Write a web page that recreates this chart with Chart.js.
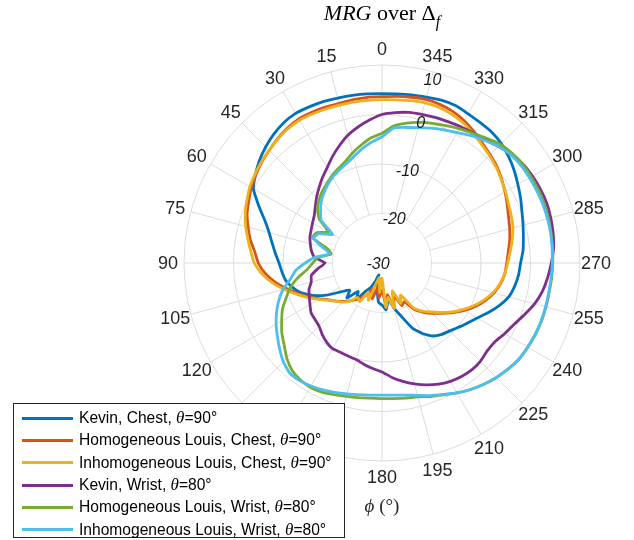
<!DOCTYPE html>
<html><head><meta charset="utf-8">
<script src="https://cdn.jsdelivr.net/npm/chart.js@4.4.1/dist/chart.umd.min.js"></script>
<style>
html,body{margin:0;padding:0;background:#fff;}
#wrap{position:relative;width:634px;height:540px;overflow:hidden;}
canvas{position:absolute;left:0;top:0;}
#title{position:absolute;left:232px;width:300px;top:0px;text-align:center;font-family:'Liberation Serif','Times New Roman',serif;font-size:22px;color:#000;line-height:26px;}
#title sub{font-size:16px;vertical-align:-7px;line-height:0;}
#xlabel{position:absolute;left:332px;width:100px;top:495px;text-align:center;font-family:'Liberation Serif','Times New Roman',serif;font-size:19px;color:#262626;line-height:22px;}
#legend{position:absolute;left:13px;top:403px;width:332px;height:135px;border:1px solid #262626;background:#fff;font-family:'Liberation Sans',Arial,sans-serif;font-size:15.6px;color:#000;box-sizing:border-box;padding-top:3px;}
.row{height:22.3px;display:flex;align-items:center;white-space:nowrap;}
.sw{display:inline-block;width:51px;height:3px;margin-left:8px;margin-right:6px;}
.th{font-family:'Liberation Serif','Times New Roman',serif;font-style:italic;font-size:17px;}
</style></head>
<body>
<div id="wrap">
<canvas id="c" width="634" height="540"></canvas>
<div id="title"><i>MRG</i> over Δ<sub><i>f</i></sub></div>
<div id="xlabel"><i>ϕ</i> (°)</div>
<div id="legend"></div>
</div>
<script>
const PHI = [0,5,10,15,20,25,30,35,40,45,50,55,60,65,70,75,80,85,90,95,100,105,110,115,120,125,130,135,140,145,150,155,160,165,170,175,180,185,190,195,200,205,210,215,220,225,230,235,240,245,250,255,260,265,270,275,280,285,290,295,300,305,310,315,320,325,330,335,340,345,350,355];
const ANGLE_TICKS = [0,15,30,45,60,75,90,105,120,135,150,165,180,195,210,225,240,255,270,285,300,315,330,345];
const R_MIN = -30, R_MAX = 10, R_STEP = 10, R_HOLE = -20;

const kevinChest = [4.2,4.3,4.4,4.5,4.7,4.8,4.9,4.6,4.0,3.2,2.3,1.2,0.0,-2.5,-4.8,-6.4,-7.5,-8.4,-9.2,-9.7,-10.2,-11.2,-12.5,-14.5,-17.0,-19.8,-21.5,-20.0,-22.5,-21.0,-23.5,-24.5,-26.0,-27.5,-24.5,-22.0,-21.5,-20.5,-22.5,-20.5,-18.5,-15.5,-13.5,-12.0,-11.2,-10.6,-9.8,-8.9,-7.8,-6.3,-4.8,-3.5,-2.8,-2.3,-2.0,-1.4,-1.0,-0.5,0.1,0.9,1.7,2.6,3.4,4.1,4.5,4.6,4.8,5.1,5.0,4.7,4.5,4.3];
const homLouisChest = [3.6,3.6,3.5,3.4,3.5,3.6,3.6,3.3,2.8,2.2,1.7,1.1,0.5,-0.3,-1.0,-2.0,-3.0,-4.2,-5.0,-6.3,-8.0,-10.0,-12.0,-13.8,-15.5,-17.0,-18.0,-19.0,-20.0,-21.0,-22.0,-23.0,-24.5,-22.5,-25.0,-23.0,-24.5,-21.5,-23.5,-20.5,-23.0,-20.5,-21.0,-18.5,-17.0,-15.6,-14.2,-12.5,-10.8,-9.2,-7.8,-6.6,-5.7,-5.1,-4.8,-4.4,-3.8,-3.3,-2.8,-2.1,-1.3,-0.5,0.3,0.9,1.6,2.4,3.2,3.8,4.1,4.2,4.0,3.8];
const inhomLouisChest = [3.0,3.0,3.0,3.0,3.1,3.2,3.3,3.1,2.7,2.2,1.8,1.3,0.8,0.1,-0.6,-1.5,-2.5,-3.4,-4.2,-5.6,-7.4,-9.5,-11.6,-13.5,-15.3,-16.8,-18.0,-18.8,-20.0,-21.5,-21.0,-23.5,-22.0,-26.0,-27.0,-24.0,-26.9,-21.0,-23.0,-20.5,-24.0,-21.0,-22.5,-19.0,-17.3,-16.0,-14.5,-12.8,-11.2,-9.6,-8.1,-6.8,-5.8,-5.1,-4.6,-4.0,-3.3,-2.6,-2.2,-1.8,-1.2,-0.6,0.1,0.7,1.3,2.0,2.7,3.2,3.5,3.5,3.3,3.1];
const kevinWrist = [0.0,-1.0,-2.1,-3.3,-4.8,-6.3,-7.8,-9.0,-10.2,-11.3,-12.4,-13.3,-13.8,-14.2,-14.5,-15.0,-15.5,-16.3,-18.5,-17.0,-15.5,-15.2,-14.3,-13.8,-13.2,-12.5,-12.3,-12.0,-11.2,-10.5,-10.0,-10.1,-10.0,-9.8,-9.2,-8.6,-8.0,-6.8,-5.7,-4.7,-3.8,-3.0,-2.4,-2.0,-1.8,-1.9,-2.3,-2.2,-1.4,-0.6,0.6,1.9,2.9,3.6,4.2,4.8,5.1,5.3,5.4,5.3,5.1,4.8,4.2,3.3,2.5,2.1,1.8,1.5,1.3,1.1,0.9,0.5];
const homLouisWrist = [-3.8,-4.6,-5.8,-7.0,-8.2,-9.0,-9.7,-10.5,-11.2,-12.0,-13.0,-14.5,-17.5,-15.5,-15.0,-18.5,-19.6,-17.0,-16.0,-14.8,-12.7,-10.8,-9.4,-7.8,-6.6,-5.3,-4.2,-2.8,-1.7,-1.2,-1.0,-1.2,-1.7,-2.1,-2.4,-2.6,-2.6,-2.5,-2.3,-2.0,-1.3,-0.6,0.3,1.2,2.0,2.7,3.3,3.8,4.0,4.2,4.3,4.3,4.3,4.4,4.5,4.6,4.7,4.8,4.9,4.9,4.8,4.7,4.4,3.9,2.9,2.0,1.3,0.6,0.0,-0.6,-1.3,-2.2];
const inhomLouisWrist = [-4.5,-5.5,-6.6,-7.8,-8.7,-9.4,-10.0,-10.8,-11.7,-12.6,-13.8,-15.0,-18.5,-16.0,-15.2,-17.5,-19.3,-16.5,-14.5,-12.5,-11.2,-9.3,-7.8,-6.5,-5.3,-4.2,-3.0,-1.8,-1.0,-1.0,-1.3,-1.7,-2.2,-2.6,-3.0,-3.2,-3.3,-3.2,-2.9,-2.3,-1.5,-0.7,0.3,1.2,2.0,2.7,3.3,3.8,4.0,4.1,4.2,4.2,4.2,4.3,4.4,4.5,4.6,4.6,4.6,4.5,4.4,4.3,4.0,3.3,2.3,1.4,0.4,-0.3,-1.0,-1.7,-2.2,-2.6];

const SERIES = [
  {name:'Kevin, Chest, ', ang:'θ', tail:'=90°', data:kevinChest, color:'#0072BD'},
  {name:'Homogeneous Louis, Chest, ', ang:'θ', tail:'=90°', data:homLouisChest, color:'#D95319'},
  {name:'Inhomogeneous Louis, Chest, ', ang:'θ', tail:'=90°', data:inhomLouisChest, color:'#EDB120'},
  {name:'Kevin, Wrist, ', ang:'θ', tail:'=80°', data:kevinWrist, color:'#7E2F8E'},
  {name:'Homogeneous Louis, Wrist, ', ang:'θ', tail:'=80°', data:homLouisWrist, color:'#77AC30'},
  {name:'Inhomogeneous Louis, Wrist, ', ang:'θ', tail:'=80°', data:inhomLouisWrist, color:'#4DBEEE'}
];

const leg = document.getElementById('legend');
SERIES.forEach(s => {
  const row = document.createElement('div');
  row.className = 'row';
  row.innerHTML = '<span class="sw" style="background:' + s.color + '"></span><span>' + s.name +
    '<span class="th">' + s.ang + '</span>' + s.tail + '</span>';
  leg.appendChild(row);
});

// radar goes clockwise; phi increases counter-clockwise
const N = PHI.length;
const cw = arr => arr.map((_, i) => arr[(N - i) % N]);
const labels = cw(PHI);

const polarPlugin = {
  id: 'polarDecor',
  beforeDatasetsDraw(chart) {
    const s = chart.scales.r, ctx = chart.ctx;
    ctx.save();
    ctx.fillStyle = '#fff';
    ctx.beginPath();
    ctx.arc(s.xCenter, s.yCenter, s.getDistanceFromCenterForValue(R_HOLE) - 0.6, 0, Math.PI * 2);
    ctx.fill();
    ctx.restore();
  },
  afterDraw(chart) {
    const s = chart.scales.r, ctx = chart.ctx;
    ctx.save();
    ctx.fillStyle = '#262626';
    ctx.textAlign = 'center';
    ctx.textBaseline = 'middle';
    ctx.font = '18px "Liberation Sans", Arial, sans-serif';
    chart.data.labels.forEach((lab, i) => {
      if (!ANGLE_TICKS.includes(lab)) return;
      const p = s.getPointPosition(i, s.drawingArea + 16);
      ctx.fillText(String(lab), p.x, p.y + 1);
    });
    ctx.fillStyle = '#1a1a1a';
    ctx.font = 'italic 16px "Liberation Sans", Arial, sans-serif';
    const a = -Math.PI / 2 + 15.5 * Math.PI / 180;
    s.ticks.forEach(t => {
      const inset = t.value === R_MAX ? 9 : 4;
      const d = Math.max(s.getDistanceFromCenterForValue(t.value) - inset, 0);
      const x = s.xCenter + Math.cos(a) * d;
      const y = s.yCenter + Math.sin(a) * d;
      ctx.fillText(t.label, x - (d === 0 ? 4 : 0), y + (d === 0 ? 2 : 0));
    });
    ctx.restore();
  }
};

new Chart(document.getElementById('c'), {
  type: 'radar',
  data: {
    labels: labels,
    datasets: SERIES.map((s, k) => ({
      label: s.name + s.ang + s.tail,
      data: cw(s.data),
      borderColor: s.color,
      backgroundColor: s.color,
      borderWidth: 2.8,
      fill: false,
      pointRadius: 0,
      tension: 0.15,
      borderJoinStyle: 'round',
      order: SERIES.length - k
    }))
  },
  options: {
    responsive: false,
    animation: false,
    layout: { padding: { left: 184, right: 54, top: 65, bottom: 79 } },
    plugins: { legend: { display: false }, title: { display: false }, tooltip: { enabled: false } },
    scales: {
      r: {
        min: R_MIN, max: R_MAX,
        ticks: { display: false, stepSize: R_STEP },
        pointLabels: { display: false },
        grid: { circular: true, color: '#dcdcdc', lineWidth: 1 },
        angleLines: {
          color: '#dcdcdc',
          lineWidth: ctx => (ANGLE_TICKS.includes(labels[ctx.index]) ? 1 : 0)
        }
      }
    }
  },
  plugins: [polarPlugin]
});
</script>
</body></html>
